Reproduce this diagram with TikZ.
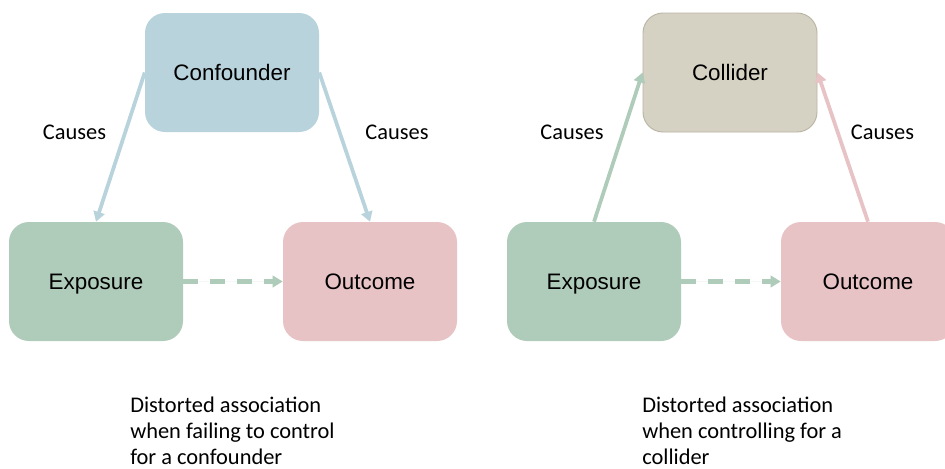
\documentclass[tikz,border=0pt]{standalone}
\usepackage{fontspec}
\setmainfont{Liberation Sans}
\newfontfamily\calfont{Carlito}
\usetikzlibrary{arrows.meta}

\definecolor{confcol}{HTML}{B9D3DC}
\definecolor{expcol}{HTML}{AFCBB9}
\definecolor{outcol}{HTML}{E8C3C6}
\definecolor{collcol}{HTML}{D6D2C3}
\definecolor{collline}{HTML}{BAB4A4}

\tikzset{
  varbox/.style={rounded corners=15pt, minimum width=130.5pt, minimum height=89.25pt,
    inner sep=0pt, text height=12pt, text depth=0pt,
    font=\fontsize{16.8}{20}\selectfont, text=black},
  causelbl/.style={font=\calfont\fontsize{16.8}{20}\selectfont, inner sep=0pt},
  notelbl/.style={font=\calfont\fontsize{16.8}{19.5}\selectfont, align=left, inner sep=0pt, anchor=base west},
  causearrow/.style={line width=2.8pt, -{Triangle[width=8.5pt,length=7.5pt]}},
  assocarrow/.style={line width=3.3pt, draw=expcol, dash pattern=on 11.25pt off 9pt,
    -{Triangle[width=8.5pt,length=7.5pt]}}
}

\begin{document}
\begin{tikzpicture}[x=0.75pt, y=-0.75pt]
\clip (0,0) rectangle (945,468);
\fill[white] (0,0) rectangle (945,468);

% ---- confounder panel ----
\node[varbox, fill=confcol] (conf) at (232,72.5) {Confounder};
\node[varbox, fill=expcol] (expA) at (96,281.5) {Exposure};
\node[varbox, fill=outcol] (outA) at (370,281.5) {Outcome};

\draw[causearrow, draw=confcol, fill=confcol] (conf.west) -- (expA.north);
\draw[causearrow, draw=confcol, fill=confcol] (conf.east) -- (outA.north);
\draw[assocarrow, fill=expcol] (expA.east) -- (outA.west);

\node[causelbl] (cA1) at (74.5,132.5) {Causes};
\node[causelbl] (cA2) at (397,132.5) {Causes};

% multi-line notes are placed by the baseline of their last line
\node[notelbl] (noteA) at (130,464) {Distorted association\\when failing to control\\for a confounder};

% ---- collider panel ----
\node[varbox, fill=collcol, draw=collline, line width=0.7pt] (coll) at (730,72.5) {Collider};
\node[varbox, fill=expcol] (expB) at (594,281.5) {Exposure};
\node[varbox, fill=outcol] (outB) at (868,281.5) {Outcome};

\draw[causearrow, draw=expcol, fill=expcol] (expB.north) -- (coll.west);
\draw[causearrow, draw=outcol, fill=outcol] (outB.north) -- (coll.east);
\draw[assocarrow, fill=expcol] (expB.east) -- (outB.west);

\node[causelbl] (cB1) at (572,132.5) {Causes};
\node[causelbl] (cB2) at (882.5,132.5) {Causes};

\node[notelbl] (noteB) at (642,464) {Distorted association\\when controlling for a\\collider};
\end{tikzpicture}
\end{document}
